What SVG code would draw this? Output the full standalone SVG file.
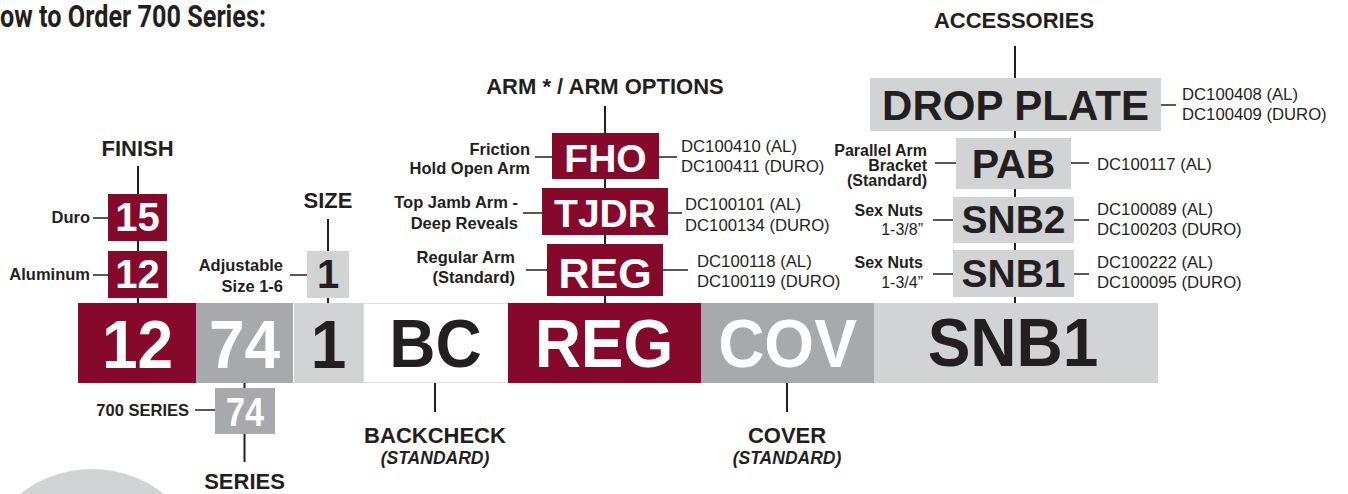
<svg xmlns="http://www.w3.org/2000/svg" width="1348" height="494" viewBox="0 0 1348 494">
<style>
  text{font-family:"Liberation Sans",Arial,sans-serif;fill:#231f20}
  .hd{font-size:22px;font-weight:bold;text-anchor:middle}
  .lb{font-size:16.5px;font-weight:bold;text-anchor:end}
  .pn{font-size:16.7px}
  .it{font-size:17.5px;font-weight:bold;font-style:italic;text-anchor:middle}
  .big{font-size:64px;font-weight:bold;text-anchor:middle}
  .mid{font-size:40px;font-weight:bold;text-anchor:middle}
  .w{fill:#ffffff}
  .red{fill:#86092c}
  .dg{fill:#a7a9ac}
  .lg{fill:#d1d3d4}
  .ln{stroke:#231f20;stroke-width:2;fill:none}
  .tk{stroke:#231f20;stroke-width:1.5;fill:none}
  .title{font-family:"Liberation Sans Narrow","Roboto","Liberation Sans",sans-serif;font-size:31px;font-weight:bold}
</style>
<rect width="1348" height="494" fill="#ffffff"/>
<circle cx="92" cy="585" r="116" class="lg"/>
<text class="title" x="0" y="27" textLength="266" lengthAdjust="spacingAndGlyphs">ow to Order 700 Series:</text>

<g id="connectors">
  <line class="ln" x1="138" y1="166" x2="138" y2="303"/>
  <line class="ln" x1="328" y1="219" x2="328" y2="303"/>
  <line class="ln" x1="605" y1="106" x2="605" y2="303"/>
  <line class="ln" x1="1015" y1="46" x2="1015" y2="303"/>
  <line class="ln" x1="244.5" y1="383" x2="244.5" y2="462"/>
  <line class="ln" x1="435" y1="383" x2="435" y2="412"/>
  <line class="ln" x1="787" y1="383" x2="787" y2="412"/>
  <line class="tk" x1="93" y1="218" x2="108" y2="218"/>
  <line class="tk" x1="93" y1="275" x2="108" y2="275"/>
  <line class="tk" x1="290" y1="275" x2="307" y2="275"/>
  <line class="tk" x1="535" y1="157" x2="552" y2="157"/>
  <line class="tk" x1="659" y1="157" x2="677" y2="157"/>
  <line class="tk" x1="523" y1="213" x2="542" y2="213"/>
  <line class="tk" x1="668" y1="213" x2="682" y2="213"/>
  <line class="tk" x1="526" y1="270" x2="547" y2="270"/>
  <line class="tk" x1="663" y1="270" x2="688" y2="270"/>
  <line class="tk" x1="1161" y1="105" x2="1176" y2="105"/>
  <line class="tk" x1="935" y1="163" x2="956" y2="163"/>
  <line class="tk" x1="1071" y1="163" x2="1089" y2="163"/>
  <line class="tk" x1="933" y1="220" x2="953" y2="220"/>
  <line class="tk" x1="1074" y1="220" x2="1089" y2="220"/>
  <line class="tk" x1="933" y1="274" x2="953" y2="274"/>
  <line class="tk" x1="1074" y1="274" x2="1089" y2="274"/>
  <line class="tk" x1="195" y1="410" x2="215" y2="410"/>
</g>

<g id="headings">
  <text class="hd" x="137.5" y="156">FINISH</text>
  <text class="hd" x="328" y="208">SIZE</text>
  <text class="hd" x="605" y="94">ARM * / ARM OPTIONS</text>
  <text class="hd" x="1014" y="28">ACCESSORIES</text>
  <text class="hd" x="435" y="443">BACKCHECK</text>
  <text class="it" x="435" y="464">(STANDARD)</text>
  <text class="hd" x="787" y="443">COVER</text>
  <text class="it" x="787" y="464">(STANDARD)</text>
  <text class="hd" x="244.5" y="489">SERIES</text>
</g>

<g id="bar">
  <rect class="red" x="78" y="303" width="118" height="80"/>
  <rect class="dg" x="196" y="303" width="97" height="80"/>
  <rect class="lg" x="294" y="303" width="69" height="80"/>
  <rect x="363.5" y="303.5" width="144.5" height="79" fill="#ffffff" stroke="#dcdddf" stroke-width="1"/>
  <rect class="red" x="508" y="303" width="193" height="80"/>
  <rect class="dg" x="701" y="303" width="173" height="80"/>
  <rect class="lg" x="874" y="303" width="284" height="80"/>
  <g transform="translate(0,367) scale(1,1.07) translate(0,-367)">
    <text class="big w" x="137.5" y="368">12</text>
    <text class="big w" x="244.5" y="368">74</text>
    <text class="big" x="328.5" y="368">1</text>
    <text class="big" x="435.5" y="367">BC</text>
    <text class="big w" x="604" y="367">REG</text>
    <text class="big w" x="787.5" y="367">COV</text>
    <text class="big" x="1013" y="366">SNB1</text>
  </g>
</g>

<g id="finish">
  <rect class="red" x="108" y="194" width="59" height="47"/>
  <text class="mid w" x="137.5" y="231">15</text>
  <text class="lb" x="90" y="223">Duro</text>
  <rect class="red" x="108" y="251" width="59" height="47"/>
  <text class="mid w" x="137.5" y="288">12</text>
  <text class="lb" x="90" y="280">Aluminum</text>
</g>

<g id="size">
  <rect class="lg" x="307" y="251" width="42" height="47"/>
  <text class="mid" x="328" y="288">1</text>
  <text class="lb" x="283" y="271">Adjustable</text>
  <text class="lb" x="283" y="292">Size 1-6</text>
</g>

<g id="series">
  <rect class="dg" x="215" y="388" width="60" height="46"/>
  <text class="mid w" x="245" y="426" textLength="38" lengthAdjust="spacingAndGlyphs">74</text>
  <text class="lb" x="189" y="416">700 SERIES</text>
</g>

<g id="arm-fho">
  <rect class="red" x="552" y="133" width="107" height="46"/>
  <text class="mid w" x="605.5" y="172" style="font-size:39px">FHO</text>
  <text class="lb" x="530" y="155">Friction</text>
  <text class="lb" x="530" y="174">Hold Open Arm</text>
  <text class="pn" x="681" y="152">DC100410 (AL)</text>
  <text class="pn" x="681" y="172">DC100411 (DURO)</text>
</g>
<g id="arm-tjdr">
  <rect class="red" x="542" y="188" width="126" height="47"/>
  <text class="mid w" x="605" y="227" style="font-size:39px">TJDR</text>
  <text class="lb" x="518" y="208">Top Jamb Arm -</text>
  <text class="lb" x="518" y="229">Deep Reveals</text>
  <text class="pn" x="685" y="210">DC100101 (AL)</text>
  <text class="pn" x="685" y="231">DC100134 (DURO)</text>
</g>
<g id="arm-reg">
  <rect class="red" x="547" y="244" width="116" height="52"/>
  <text class="mid w" x="605" y="288" style="font-size:43px">REG</text>
  <text class="lb" x="515" y="263">Regular Arm</text>
  <text class="lb" x="515" y="283">(Standard)</text>
  <text class="pn" x="697" y="267">DC100118 (AL)</text>
  <text class="pn" x="697" y="287">DC100119 (DURO)</text>
</g>

<g id="acc-drop-plate">
  <rect class="lg" x="870" y="78" width="291" height="53"/>
  <text class="mid" x="1015.5" y="120" style="font-size:42px">DROP PLATE</text>
  <text class="pn" x="1182" y="100">DC100408 (AL)</text>
  <text class="pn" x="1182" y="120">DC100409 (DURO)</text>
</g>
<g id="acc-pab">
  <rect class="lg" x="956" y="138" width="115" height="51"/>
  <text class="mid" x="1013.5" y="178" style="font-size:41px">PAB</text>
  <text class="lb" x="927" y="156" style="font-size:16px">Parallel Arm</text>
  <text class="lb" x="927" y="171" style="font-size:16px">Bracket</text>
  <text class="lb" x="927" y="186" style="font-size:16px">(Standard)</text>
  <text class="pn" x="1097" y="170">DC100117 (AL)</text>
</g>
<g id="acc-snb2">
  <rect class="lg" x="953" y="197" width="121" height="46"/>
  <text class="mid" x="1013.5" y="233" style="font-size:39px">SNB2</text>
  <text class="lb" x="923" y="216" style="font-size:16px">Sex Nuts</text>
  <text class="pn" x="923" y="235" style="text-anchor:end;font-size:16px">1-3/8”</text>
  <text class="pn" x="1097" y="215">DC100089 (AL)</text>
  <text class="pn" x="1097" y="235">DC100203 (DURO)</text>
</g>
<g id="acc-snb1">
  <rect class="lg" x="953" y="250" width="121" height="47"/>
  <text class="mid" x="1013.5" y="287" style="font-size:39px">SNB1</text>
  <text class="lb" x="923" y="268" style="font-size:16px">Sex Nuts</text>
  <text class="pn" x="923" y="288" style="text-anchor:end;font-size:16px">1-3/4”</text>
  <text class="pn" x="1097" y="268">DC100222 (AL)</text>
  <text class="pn" x="1097" y="288">DC100095 (DURO)</text>
</g>
</svg>
